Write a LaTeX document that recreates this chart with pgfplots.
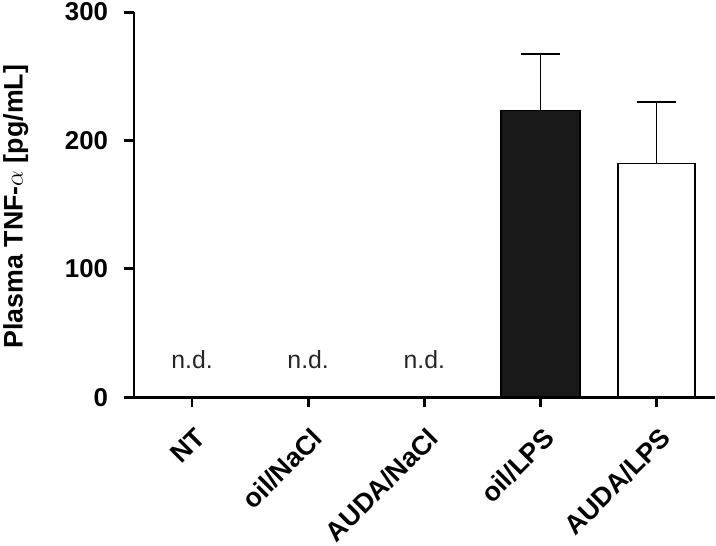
\documentclass[border=0pt]{standalone}
\usepackage{pgfplots}
\pgfplotsset{compat=1.18}
\usepackage{fontspec}
\setmainfont{Liberation Sans}
\begin{document}
\begin{tikzpicture}
\begin{axis}[
  scale only axis,
  width=585pt, height=388pt,
  xmin=-0.5, xmax=4.5,
  ymin=0, ymax=300,
  axis lines=left,
  axis line style={line width=2.8pt, -},
  every tick/.style={line width=2.8pt, black},
  major tick length=10pt,
  tick align=outside,
  xtick={0,1,2,3,4},
  xticklabels={NT, oil/NaCl, AUDA/NaCl, oil/LPS, AUDA/LPS},
  ytick={0,100,200,300},
  /pgf/number format/assume math mode=true,
  yticklabel style={font=\fontsize{26}{30}\selectfont\bfseries, inner sep=3pt, xshift=-13pt},
  xticklabel style={font=\fontsize{27}{30}\selectfont\bfseries, rotate=45, anchor=north east, inner sep=1pt, xshift=-11pt, yshift=-14pt},
  ylabel={Plasma TNF-$\alpha$ [pg/mL]},
  every axis y label/.style={at={([xshift=-119pt]rel axis cs:0,0.495)}, rotate=90, anchor=center, font=\fontsize{27}{30}\selectfont\bfseries},
  clip=false,
]
\addplot[ybar, bar width=0.68, bar shift=0pt, fill=black!90, draw=black, line width=1.5pt,
  error bars/.cd, y dir=plus, y explicit, error mark=|,
  error bar style={line width=1.8pt, black},
  error mark options={line width=1.8pt, mark size=19.5pt, black}]
  coordinates {(3,223.5) +- (0,44)};
\addplot[ybar, bar width=0.66, bar shift=0pt, fill=white, draw=black, line width=1.5pt,
  error bars/.cd, y dir=plus, y explicit, error mark=|,
  error bar style={line width=1.8pt, black},
  error mark options={line width=1.8pt, mark size=19.5pt, black}]
  coordinates {(4,182) +- (0,48)};
\node[font=\fontsize{25}{30}\selectfont, text=black!85] at (axis cs:0,29) {n.d.};
\node[font=\fontsize{25}{30}\selectfont, text=black!85] at (axis cs:1,29) {n.d.};
\node[font=\fontsize{25}{30}\selectfont, text=black!85] at (axis cs:2,29) {n.d.};
\end{axis}
\end{tikzpicture}
\end{document}
